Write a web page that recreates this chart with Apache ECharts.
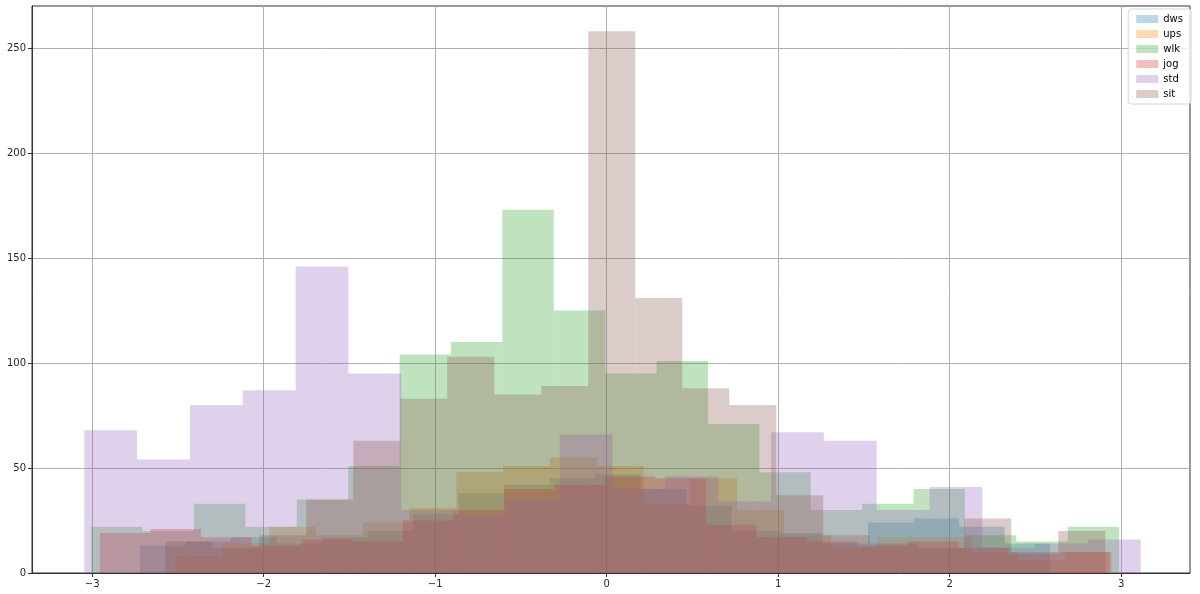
<!DOCTYPE html>
<html>
<head>
<meta charset="utf-8">
<script src="https://cdn.jsdelivr.net/npm/echarts@6/dist/echarts.min.js"></script>
<style>
  html, body { margin: 0; padding: 0; background: #fff; }
  #main { width: 1200px; height: 594px; }
</style>
</head>
<body>
<div id="main"></div>
<script>
// series names, in drawing order
const names = ['dws', 'ups', 'wlk', 'jog', 'std', 'sit'];

// first and last bin edge of each histogram (20 bins each)
const binLo = [-2.721, -2.514, -3.006, -2.955, -3.046, -2.574];
const binHi = [2.585, 2.944, 2.988, 2.935, 3.114, 2.907];

// counts per bin
const dwsCounts = [13, 15, 17, 14, 17, 20, 28, 38, 42, 45, 47, 40, 32, 20, 19, 14, 24, 26, 22, 14];
const upsCounts = [8, 14, 22, 18, 24, 31, 48, 51, 55, 51, 33, 45, 30, 18, 12, 17, 17, 10, 6, 10];
const wlkCounts = [22, 20, 33, 22, 35, 51, 104, 110, 173, 125, 95, 101, 71, 48, 30, 33, 40, 18, 15, 22];
const jogCounts = [19, 21, 17, 13, 16, 15, 25, 30, 40, 42, 46, 45, 23, 17, 15, 13, 15, 12, 9, 10];
const stdCounts = [68, 54, 80, 87, 146, 95, 30, 28, 35, 66, 40, 46, 34, 67, 63, 30, 41, 12, 14, 16];
const sitCounts = [15, 12, 18, 35, 63, 83, 103, 85, 89, 258, 131, 88, 80, 37, 18, 14, 12, 26, 10, 20];
const counts = [dwsCounts, upsCounts, wlkCounts, jogCounts, stdCounts, sitCounts];

const xTicks = [-3, -2, -1, 0, 1, 2, 3];
const yTicks = [0, 50, 100, 150, 200, 250];

// matplotlib tab10 with alpha 0.3
const colors = [
  'rgba(31,119,180,0.3)', 'rgba(255,127,14,0.3)', 'rgba(44,160,44,0.3)',
  'rgba(214,39,40,0.3)', 'rgba(148,103,189,0.3)', 'rgba(140,86,75,0.3)'
];

let chart = echarts.init(document.getElementById('main'));

function renderBin(params, api) {
  let p0 = api.coord([api.value(0), 0]);
  let p1 = api.coord([api.value(1), api.value(2)]);
  return {
    type: 'rect',
    shape: { x: p0[0], y: p1[1], width: p1[0] - p0[0], height: p0[1] - p1[1] },
    style: { fill: api.visual('color') }
  };
}

let series = names.map((name, s) => {
  let n = counts[s].length;
  let w = (binHi[s] - binLo[s]) / n;
  let data = counts[s].map((c, i) => [binLo[s] + i * w, binLo[s] + (i + 1) * w, c]);
  return {
    name: name,
    type: 'custom',
    renderItem: renderBin,
    itemStyle: { color: colors[s] },
    encode: { x: [0, 1], y: 2 },
    clip: true,
    data: data
  };
});

const labelStyle = { color: '#262626', fontFamily: 'DejaVu Sans', fontSize: 10 };

let option = {
  animation: false,
  textStyle: { fontFamily: 'DejaVu Sans' },
  grid: { left: 32, right: 10, top: 6, bottom: 21, show: true, borderColor: '#333', borderWidth: 1 },
  legend: {
    data: names,
    orient: 'vertical',
    right: 9,
    top: 9,
    icon: 'rect',
    itemWidth: 22,
    itemHeight: 8,
    itemGap: 5,
    padding: [5, 8, 5, 8],
    borderColor: '#d6d6d6',
    borderWidth: 1,
    borderRadius: 3,
    backgroundColor: 'rgba(255,255,255,0.8)',
    textStyle: { color: '#000', fontSize: 10, fontFamily: 'DejaVu Sans' }
  },
  xAxis: {
    type: 'value',
    min: -3.351,
    max: 3.401,
    axisLine: { show: true, onZero: false, lineStyle: { color: '#333' } },
    axisTick: { show: true, length: 4, customValues: xTicks, lineStyle: { color: '#333' } },
    axisLabel: Object.assign({
      customValues: xTicks,
      margin: 6,
      formatter: v => String(v).replace('-', '\u2212')
    }, labelStyle),
    splitLine: { show: true, lineStyle: { color: '#b0b0b0', width: 1 } }
  },
  yAxis: {
    type: 'value',
    min: 0,
    max: 270,
    axisLine: { show: true, onZero: false, lineStyle: { color: '#333' } },
    axisTick: { show: true, length: 4, customValues: yTicks, lineStyle: { color: '#333' } },
    axisLabel: Object.assign({ customValues: yTicks, margin: 6 }, labelStyle),
    splitLine: { show: true, lineStyle: { color: '#b0b0b0', width: 1 } }
  },
  series: series
};

chart.setOption(option);
</script>
</body>
</html>
